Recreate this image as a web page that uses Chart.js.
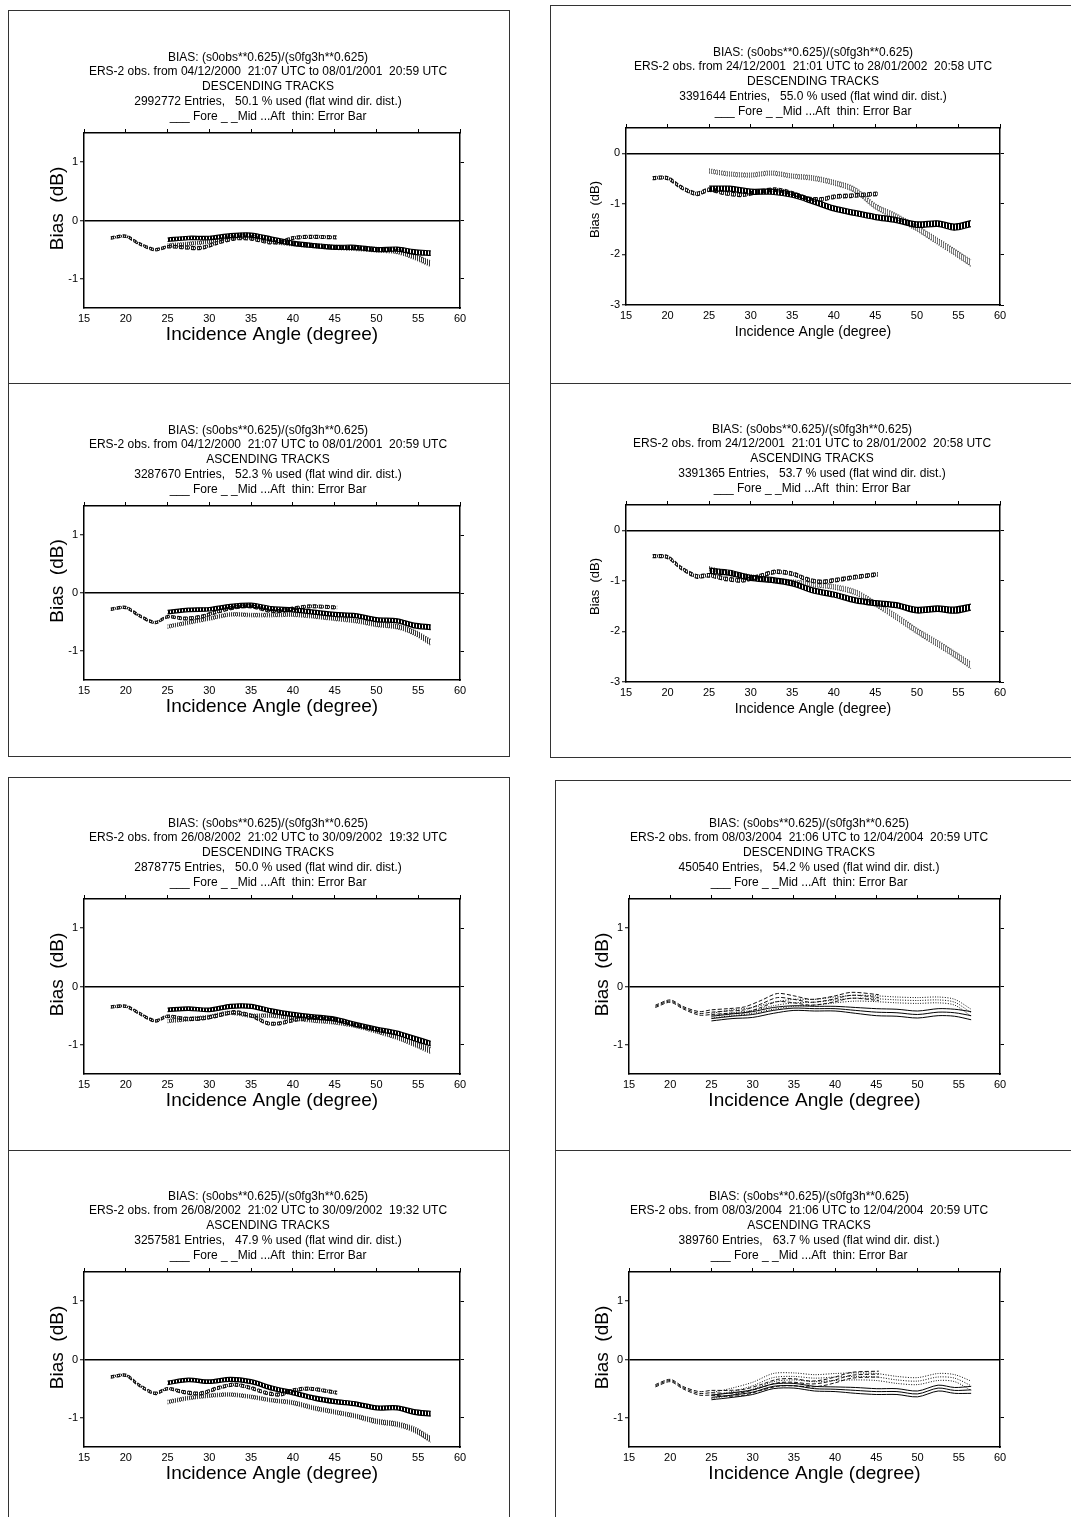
<!DOCTYPE html>
<html>
<head>
<meta charset="utf-8">
<script src="https://cdn.jsdelivr.net/npm/chart.js@4.4.1/dist/chart.umd.min.js"></script>
<style>
  body { margin: 0; background: #fff; width: 1071px; height: 1517px; position: relative; overflow: hidden; }
  .box { position: absolute; border: 1px solid #333; box-sizing: border-box; }
  canvas { position: absolute; }
</style>
</head>
<body>
<div class="box" style="left:8px;top:10px;width:502px;height:374px"></div>
<div class="box" style="left:8px;top:383px;width:502px;height:374px"></div>
<div class="box" style="left:550px;top:5px;width:540px;height:379px"></div>
<div class="box" style="left:550px;top:383px;width:540px;height:375px"></div>
<div class="box" style="left:8px;top:777px;width:502px;height:374px"></div>
<div class="box" style="left:8px;top:1150px;width:502px;height:380px"></div>
<div class="box" style="left:555px;top:780px;width:535px;height:371px"></div>
<div class="box" style="left:555px;top:1150px;width:535px;height:380px"></div>

<script>
// ---- data ----
// incidence angles (degree)
var midX  = [18.2, 20, 21.5, 23.5, 25, 27, 29, 31, 33, 35, 37, 38.5, 40, 42, 45.3];
var foreX = [25, 27.5, 30, 32.5, 35, 37.5, 40, 42.5, 45, 47.5, 50, 52.5, 54.5, 56.5];
var xTicks = [15, 20, 25, 30, 35, 40, 45, 50, 55, 60];
var yTicksA = [-1, 0, 1];
var yTicksB = [-3, -2, -1, 0];

var periods = [
  '04/12/2000  21:07 UTC to 08/01/2001  20:59 UTC',
  '24/12/2001  21:01 UTC to 28/01/2002  20:58 UTC',
  '04/12/2000  21:07 UTC to 08/01/2001  20:59 UTC',
  '24/12/2001  21:01 UTC to 28/01/2002  20:58 UTC',
  '26/08/2002  21:02 UTC to 30/09/2002  19:32 UTC',
  '08/03/2004  21:06 UTC to 12/04/2004  20:59 UTC',
  '26/08/2002  21:02 UTC to 30/09/2002  19:32 UTC',
  '08/03/2004  21:06 UTC to 12/04/2004  20:59 UTC'
];
var tracks = ['DESCENDING', 'DESCENDING', 'ASCENDING', 'ASCENDING', 'DESCENDING', 'DESCENDING', 'ASCENDING', 'ASCENDING'];
var entries = [2992772, 3391644, 3287670, 3391365, 2878775, 450540, 3257581, 389760];
var usedPct = ['50.1', '55.0', '52.3', '53.7', '50.0', '54.2', '47.9', '63.7'];

// bias (dB) and error bar half-width per beam
var p1Mid     = [-0.30, -0.27, -0.39, -0.50, -0.45, -0.46, -0.47, -0.38, -0.31, -0.31, -0.37, -0.37, -0.30, -0.28, -0.29];
var p1MidErr  = [0.02, 0.02, 0.02, 0.02, 0.02, 0.025, 0.025, 0.025, 0.025, 0.025, 0.025, 0.025, 0.025, 0.025, 0.025];
var p1Fore    = [-0.33, -0.30, -0.30, -0.26, -0.25, -0.32, -0.39, -0.43, -0.46, -0.46, -0.50, -0.49, -0.54, -0.56];
var p1ForeErr = [0.03, 0.03, 0.03, 0.035, 0.035, 0.035, 0.035, 0.035, 0.035, 0.035, 0.035, 0.035, 0.04, 0.04];
var p1Aft     = [-0.43, -0.40, -0.36, -0.29, -0.28, -0.36, -0.40, -0.43, -0.46, -0.48, -0.50, -0.53, -0.62, -0.74];
var p1AftErr  = [0.03, 0.03, 0.03, 0.03, 0.03, 0.03, 0.035, 0.035, 0.035, 0.035, 0.04, 0.04, 0.045, 0.05];

var p2Mid     = [-0.49, -0.49, -0.66, -0.80, -0.72, -0.79, -0.82, -0.76, -0.72, -0.79, -0.90, -0.91, -0.86, -0.84, -0.80];
var p2MidErr  = [0.03, 0.03, 0.03, 0.035, 0.035, 0.035, 0.035, 0.035, 0.035, 0.035, 0.035, 0.035, 0.035, 0.035, 0.035];
var p2Fore    = [-0.70, -0.70, -0.76, -0.76, -0.82, -0.95, -1.09, -1.18, -1.26, -1.32, -1.41, -1.39, -1.46, -1.39];
var p2ForeErr = [0.05, 0.05, 0.05, 0.05, 0.05, 0.05, 0.05, 0.05, 0.05, 0.05, 0.055, 0.055, 0.06, 0.06];
var p2Aft     = [-0.35, -0.41, -0.43, -0.39, -0.45, -0.49, -0.58, -0.72, -1.05, -1.25, -1.48, -1.74, -1.95, -2.17];
var p2AftErr  = [0.04, 0.04, 0.04, 0.04, 0.04, 0.045, 0.045, 0.05, 0.05, 0.055, 0.055, 0.06, 0.06, 0.065];

var p3Mid     = [-0.28, -0.25, -0.38, -0.51, -0.41, -0.44, -0.41, -0.32, -0.25, -0.23, -0.30, -0.31, -0.27, -0.23, -0.25];
var p3MidErr  = [0.02, 0.02, 0.02, 0.02, 0.02, 0.025, 0.025, 0.025, 0.025, 0.025, 0.025, 0.025, 0.025, 0.025, 0.025];
var p3Fore    = [-0.33, -0.29, -0.28, -0.23, -0.21, -0.27, -0.29, -0.33, -0.37, -0.39, -0.46, -0.48, -0.56, -0.59];
var p3ForeErr = [0.03, 0.03, 0.03, 0.035, 0.035, 0.035, 0.035, 0.035, 0.035, 0.035, 0.035, 0.035, 0.04, 0.04];
var p3Aft     = [-0.58, -0.51, -0.44, -0.37, -0.38, -0.38, -0.37, -0.40, -0.44, -0.48, -0.54, -0.58, -0.68, -0.85];
var p3AftErr  = [0.03, 0.03, 0.03, 0.03, 0.03, 0.03, 0.035, 0.035, 0.035, 0.035, 0.04, 0.04, 0.045, 0.05];

var p4Mid     = [-0.51, -0.53, -0.73, -0.91, -0.89, -0.96, -0.99, -0.91, -0.82, -0.86, -0.98, -1.02, -0.99, -0.94, -0.87];
var p4MidErr  = [0.03, 0.03, 0.03, 0.035, 0.035, 0.035, 0.035, 0.035, 0.035, 0.035, 0.035, 0.035, 0.035, 0.035, 0.035];
var p4Fore    = [-0.80, -0.84, -0.94, -0.98, -1.05, -1.19, -1.27, -1.38, -1.44, -1.48, -1.58, -1.55, -1.58, -1.52];
var p4ForeErr = [0.05, 0.05, 0.05, 0.05, 0.05, 0.05, 0.05, 0.05, 0.05, 0.05, 0.055, 0.055, 0.06, 0.06];
var p4Aft     = [-0.76, -0.86, -0.92, -0.99, -1.02, -1.07, -1.12, -1.22, -1.45, -1.71, -1.99, -2.24, -2.45, -2.67];
var p4AftErr  = [0.04, 0.04, 0.04, 0.04, 0.04, 0.045, 0.045, 0.05, 0.05, 0.055, 0.055, 0.06, 0.06, 0.065];

var p5Mid     = [-0.35, -0.34, -0.45, -0.59, -0.51, -0.55, -0.55, -0.50, -0.44, -0.50, -0.63, -0.63, -0.58, -0.54, -0.56];
var p5MidErr  = [0.02, 0.02, 0.02, 0.02, 0.02, 0.025, 0.025, 0.025, 0.025, 0.025, 0.025, 0.025, 0.025, 0.025, 0.025];
var p5Fore    = [-0.40, -0.38, -0.40, -0.34, -0.34, -0.42, -0.48, -0.52, -0.56, -0.65, -0.73, -0.80, -0.89, -0.98];
var p5ForeErr = [0.03, 0.03, 0.03, 0.035, 0.035, 0.035, 0.035, 0.035, 0.035, 0.035, 0.035, 0.035, 0.04, 0.04];
var p5Aft     = [-0.59, -0.56, -0.52, -0.45, -0.50, -0.50, -0.54, -0.58, -0.61, -0.67, -0.76, -0.87, -0.98, -1.10];
var p5AftErr  = [0.03, 0.03, 0.03, 0.03, 0.03, 0.03, 0.035, 0.035, 0.035, 0.035, 0.04, 0.04, 0.045, 0.05];

var p6Mid     = [-0.34, -0.25, -0.36, -0.46, -0.44, -0.42, -0.40, -0.30, -0.19, -0.22, -0.27, -0.25, -0.21, -0.15, -0.19];
var p6MidErr  = [0.02, 0.02, 0.02, 0.03, 0.04, 0.04, 0.05, 0.06, 0.07, 0.06, 0.05, 0.05, 0.05, 0.05, 0.05];
var p6Fore    = [-0.55, -0.51, -0.48, -0.41, -0.37, -0.38, -0.38, -0.41, -0.44, -0.45, -0.48, -0.44, -0.45, -0.50];
var p6ForeErr = [0.04, 0.04, 0.05, 0.05, 0.04, 0.04, 0.04, 0.05, 0.06, 0.06, 0.06, 0.06, 0.06, 0.07];
var p6Aft     = [-0.50, -0.45, -0.41, -0.33, -0.28, -0.27, -0.23, -0.20, -0.21, -0.23, -0.24, -0.23, -0.27, -0.45];
var p6AftErr  = [0.04, 0.05, 0.05, 0.06, 0.06, 0.05, 0.05, 0.05, 0.05, 0.05, 0.05, 0.05, 0.05, 0.06];

var p7Mid     = [-0.30, -0.27, -0.43, -0.58, -0.50, -0.56, -0.58, -0.49, -0.43, -0.49, -0.58, -0.60, -0.53, -0.50, -0.57];
var p7MidErr  = [0.02, 0.02, 0.02, 0.02, 0.02, 0.025, 0.025, 0.025, 0.025, 0.025, 0.025, 0.025, 0.025, 0.025, 0.025];
var p7Fore    = [-0.40, -0.35, -0.38, -0.34, -0.38, -0.49, -0.57, -0.66, -0.72, -0.76, -0.83, -0.83, -0.90, -0.93];
var p7ForeErr = [0.03, 0.03, 0.03, 0.035, 0.035, 0.035, 0.035, 0.035, 0.035, 0.035, 0.035, 0.035, 0.04, 0.04];
var p7Aft     = [-0.73, -0.66, -0.62, -0.60, -0.64, -0.70, -0.74, -0.83, -0.90, -0.97, -1.06, -1.11, -1.20, -1.37];
var p7AftErr  = [0.03, 0.03, 0.03, 0.03, 0.03, 0.03, 0.035, 0.035, 0.035, 0.035, 0.04, 0.04, 0.045, 0.05];

var p8Mid     = [-0.45, -0.36, -0.48, -0.58, -0.57, -0.58, -0.56, -0.48, -0.40, -0.39, -0.42, -0.40, -0.35, -0.27, -0.25];
var p8MidErr  = [0.02, 0.02, 0.02, 0.03, 0.04, 0.05, 0.05, 0.05, 0.06, 0.06, 0.05, 0.05, 0.05, 0.05, 0.05];
var p8Fore    = [-0.65, -0.61, -0.56, -0.46, -0.45, -0.50, -0.51, -0.53, -0.55, -0.55, -0.59, -0.49, -0.53, -0.52];
var p8ForeErr = [0.04, 0.04, 0.04, 0.04, 0.04, 0.04, 0.04, 0.05, 0.05, 0.05, 0.05, 0.05, 0.05, 0.06];
var p8Aft     = [-0.62, -0.55, -0.45, -0.31, -0.29, -0.32, -0.30, -0.29, -0.30, -0.35, -0.37, -0.30, -0.32, -0.45];
var p8AftErr  = [0.05, 0.06, 0.06, 0.07, 0.06, 0.06, 0.06, 0.06, 0.06, 0.06, 0.06, 0.06, 0.06, 0.08];

// ---- layout of the 8 panels (plot area in page pixels) ----
var panels = [
  { L: 84,  R: 460,  T: 133,  B: 308,  big: true,  band: true,  tx: 268, mid: p1Mid, midErr: p1MidErr, fore: p1Fore, foreErr: p1ForeErr, aft: p1Aft, aftErr: p1AftErr },
  { L: 626, R: 1000, T: 128,  B: 305,  big: false, band: true,  tx: 813, mid: p2Mid, midErr: p2MidErr, fore: p2Fore, foreErr: p2ForeErr, aft: p2Aft, aftErr: p2AftErr },
  { L: 84,  R: 460,  T: 506,  B: 680,  big: true,  band: true,  tx: 268, mid: p3Mid, midErr: p3MidErr, fore: p3Fore, foreErr: p3ForeErr, aft: p3Aft, aftErr: p3AftErr },
  { L: 626, R: 1000, T: 505,  B: 682,  big: false, band: true,  tx: 812, mid: p4Mid, midErr: p4MidErr, fore: p4Fore, foreErr: p4ForeErr, aft: p4Aft, aftErr: p4AftErr },
  { L: 84,  R: 460,  T: 899,  B: 1074, big: true,  band: true,  tx: 268, mid: p5Mid, midErr: p5MidErr, fore: p5Fore, foreErr: p5ForeErr, aft: p5Aft, aftErr: p5AftErr },
  { L: 629, R: 1000, T: 899,  B: 1074, big: true,  band: false, tx: 809, mid: p6Mid, midErr: p6MidErr, fore: p6Fore, foreErr: p6ForeErr, aft: p6Aft, aftErr: p6AftErr },
  { L: 84,  R: 460,  T: 1272, B: 1447, big: true,  band: true,  tx: 268, mid: p7Mid, midErr: p7MidErr, fore: p7Fore, foreErr: p7ForeErr, aft: p7Aft, aftErr: p7AftErr },
  { L: 629, R: 1000, T: 1272, B: 1447, big: true,  band: false, tx: 809, mid: p8Mid, midErr: p8MidErr, fore: p8Fore, foreErr: p8ForeErr, aft: p8Aft, aftErr: p8AftErr }
];

Chart.defaults.font.family = "'Liberation Sans', Arial, Helvetica, sans-serif";
Chart.defaults.color = '#000';

// vertical stripes = the thin error bars between the band edges
function stripes(color, on, period) {
  var c = document.createElement('canvas');
  c.width = period; c.height = 2;
  var g = c.getContext('2d');
  g.fillStyle = color;
  g.fillRect(0, 0, on, 2);
  return g.createPattern(c, 'repeat');
}

function beamSets(xs, mean, err, color, dash, band, pattern) {
  function pts(k) {
    return xs.map(function (x, i) { return { x: x, y: mean[i] + k * err[i] }; });
  }
  var base = { borderColor: color, borderDash: dash, pointRadius: 0, tension: 0.3, borderWidth: band ? 1.2 : 1 };
  var sets = [
    Object.assign({}, base, { data: pts(1), fill: false }),
    Object.assign({}, base, { data: pts(-1), fill: band ? '-1' : false, backgroundColor: pattern })
  ];
  if (!band) sets.push(Object.assign({}, base, { data: pts(0), fill: false }));
  return sets;
}

// header lines above the plot box, and the y label
var headerPlugin = {
  id: 'header',
  afterDraw: function (chart, args, opts) {
    var ctx = chart.ctx, a = chart.chartArea;
    ctx.save();
    ctx.fillStyle = '#000';
    ctx.textAlign = 'center';
    ctx.textBaseline = 'middle';
    ctx.font = "12px 'Liberation Sans', Arial, sans-serif";
    var n = opts.lines.length;
    opts.lines.forEach(function (t, i) {
      ctx.fillText(t, opts.cx, a.top - 16.5 - (n - 1 - i) * 14.8);
    });
    ctx.font = opts.ySize + "px 'Liberation Sans', Arial, sans-serif";
    ctx.translate(a.left - opts.yDx, (a.top + a.bottom) / 2 - opts.yDy);
    ctx.rotate(-Math.PI / 2);
    ctx.fillText(opts.yText, 0, 0);
    ctx.restore();
  }
};

var PADL = 75, PADR = 25, PADT = 95, PADB = 45;

panels.forEach(function (p, k) {
  var cv = document.createElement('canvas');
  cv.width = p.R - p.L + PADL + PADR;
  cv.height = p.B - p.T + PADT + PADB;
  cv.style.left = (p.L - PADL) + 'px';
  cv.style.top = (p.T - PADT) + 'px';
  document.body.appendChild(cv);

  var deep = (k === 1 || k === 3);
  var yMin = deep ? -3 : -1.5, yMax = deep ? 0.5 : 1.5;
  var yTicks = deep ? yTicksB : yTicksA;
  var titleSize = p.big ? 19 : 14;
  var bottomH = p.big ? 38 : 36;

  var datasets = []
    .concat(beamSets(foreX, p.fore, p.foreErr, '#000', [], p.band, stripes('#000', 2, 3)))
    .concat(beamSets(midX, p.mid, p.midErr, '#111', [4, 2], p.band, stripes('#222', 1, 2)))
    .concat(beamSets(foreX, p.aft, p.aftErr, p.band ? '#444' : '#111', [1, 1.5], p.band, stripes(deep ? '#777' : '#333', 1, 2)));

  var setX = function (s) { s.ticks = xTicks.map(function (v) { return { value: v }; }); };
  var setY = function (s) { s.ticks = yTicks.map(function (v) { return { value: v }; }); };
  var frame = { color: '#000', width: 1.5 };

  new Chart(cv.getContext('2d'), {
    type: 'line',
    data: { datasets: datasets },
    plugins: [headerPlugin],
    options: {
      responsive: false,
      animation: false,
      layout: { padding: { left: PADL - 40, right: PADR - 8, top: PADT - 8, bottom: PADB - bottomH } },
      plugins: {
        legend: { display: false },
        tooltip: { enabled: false },
        header: {
          cx: p.tx - (p.L - PADL),
          yText: 'Bias  (dB)',
          ySize: p.big ? 19 : 13,
          yDx: p.big ? 26 : 31,
          yDy: p.big ? 12 : 7,
          lines: [
            'BIAS: (s0obs**0.625)/(s0fg3h**0.625)',
            'ERS-2 obs. from ' + periods[k],
            tracks[k] + ' TRACKS',
            entries[k] + ' Entries,   ' + usedPct[k] + ' % used (flat wind dir. dist.)',
            '___ Fore _ _Mid ...Aft  thin: Error Bar'
          ]
        }
      },
      scales: {
        x: {
          type: 'linear', position: 'bottom', min: 15, max: 60,
          afterBuildTicks: setX,
          afterFit: function (s) { s.height = bottomH; },
          ticks: { font: { size: 11 }, padding: 4, maxRotation: 0, autoSkip: false },
          grid: { drawOnChartArea: false, drawTicks: false },
          border: frame,
          title: { display: true, text: 'Incidence Angle (degree)', font: { size: titleSize }, padding: 0 }
        },
        xTop: {
          type: 'linear', position: 'top', min: 15, max: 60,
          afterBuildTicks: setX,
          afterFit: function (s) { s.height = 8; },
          ticks: { display: false },
          grid: { drawOnChartArea: false, tickLength: 4, tickColor: '#000', tickWidth: 1 },
          border: frame
        },
        y: {
          type: 'linear', position: 'left', min: yMin, max: yMax,
          afterBuildTicks: setY,
          afterFit: function (s) { s.width = 40; },
          ticks: { font: { size: 11 }, padding: 2 },
          grid: {
            color: function (c) { return (c.tick && c.tick.value === 0) ? '#000' : 'rgba(0,0,0,0)'; },
            lineWidth: 1.5, tickLength: 4, tickColor: '#000', tickWidth: 1
          },
          border: frame
        },
        yRight: {
          type: 'linear', position: 'right', min: yMin, max: yMax,
          afterBuildTicks: setY,
          afterFit: function (s) { s.width = 8; },
          ticks: { display: false },
          grid: { drawOnChartArea: false, tickLength: 4, tickColor: '#000', tickWidth: 1 },
          border: frame
        }
      }
    }
  });
});
</script>
</body>
</html>
